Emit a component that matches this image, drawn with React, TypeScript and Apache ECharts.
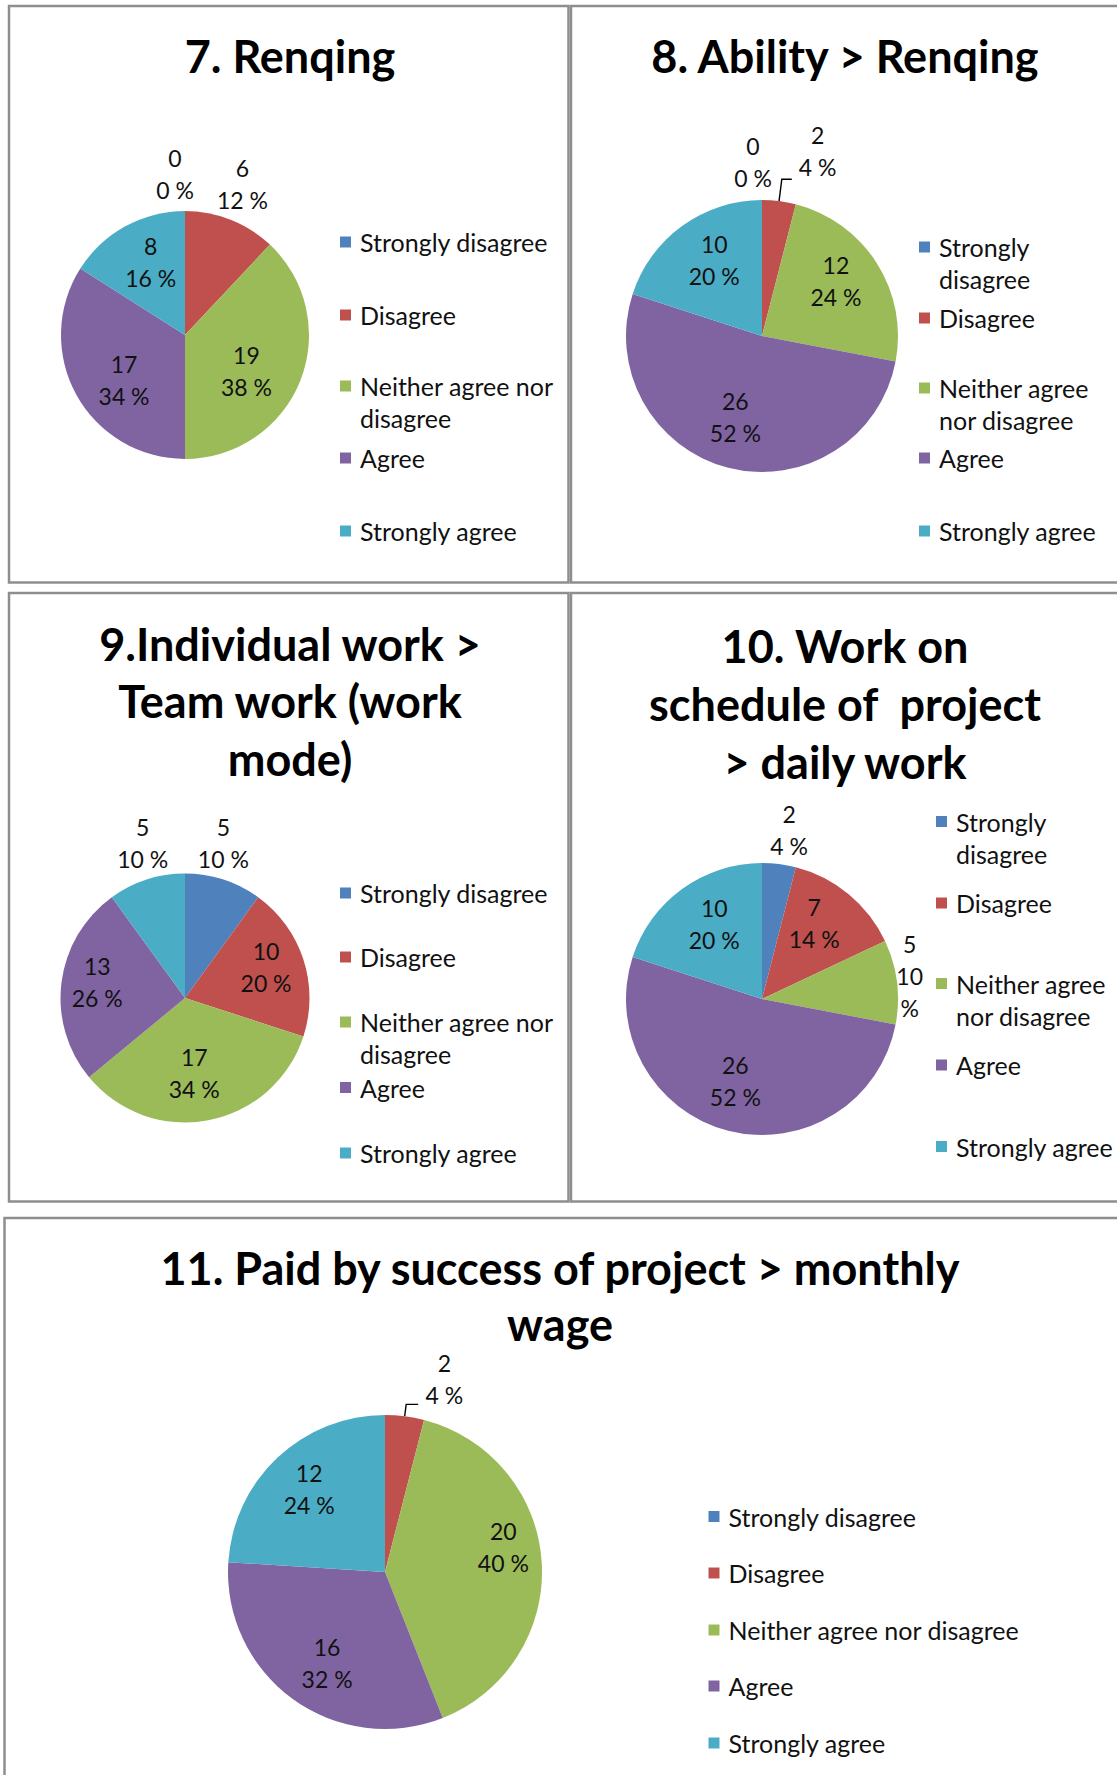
import React, { useEffect, useRef } from 'react';
import * as echarts from 'echarts';

// ---------------- data ----------------
const categories = ['Strongly disagree', 'Disagree', 'Neither agree nor disagree', 'Agree', 'Strongly agree'];
const q7Renqing = [0, 6, 19, 17, 8];
const q8AbilityOverRenqing = [0, 2, 12, 26, 10];
const q9IndividualOverTeam = [5, 10, 17, 13, 5];
const q10ProjectScheduleOverDaily = [2, 7, 5, 26, 10];
const q11PaidBySuccessOverWage = [0, 2, 20, 16, 12];
const chartTitles = [
  '7. Renqing',
  '8. Ability > Renqing',
  '9.Individual work >\nTeam work (work\nmode)',
  '10. Work on\nschedule of  project\n> daily work',
  '11. Paid by success of project > monthly\nwage',
];

// ---------------- style / layout ----------------
const sliceColors = ['#4F81BD', '#C0504D', '#9BBB59', '#8064A2', '#4BACC6'];
const legendWide = ['Strongly disagree', 'Disagree', 'Neither agree nor\ndisagree', 'Agree', 'Strongly agree'];
const legendNarrow = ['Strongly\ndisagree', 'Disagree', 'Neither agree\nnor disagree', 'Agree', 'Strongly agree'];
const FONT = 'Lato';
const LABEL_SIZE = 23;
const LEGEND_SIZE = 25;
const LINE_H = 32;
const TITLE_SIZE = 45;
const MARK = 11;
// square at the top of a taller box, so the marker sits on the first line of a wrapped legend text
const TALL_ICON = `path://M0,0H${MARK}V${MARK}H0Z M0,${MARK + LINE_H - 0.01}H0.01V${MARK + LINE_H}H0Z`;

type Placement = 'in' | 'out' | 'line' | 'none';
interface Layout {
  values: number[];
  title: string;
  titleX: number;
  titleTop: number;
  titleLH: number;
  center: [number, number];
  radius: number;
  legendX: number;
  legendY: number[];
  legendText: string[];
  placement: Placement[];
  nudge: [number, number][];
  lineLen: [number, number];
  narrowLabel: number;
}

const layouts: Layout[] = [
  {
    values: q7Renqing, title: chartTitles[0], titleX: 290, titleTop: 27, titleLH: 57, center: [185, 335], radius: 124,
    legendX: 340, legendY: [242, 315, 386, 458, 531], legendText: legendWide,
    placement: ['out', 'out', 'in', 'in', 'in'],
    nudge: [[-10, -5], [0, -6], [1, 12], [-4, 14], [-3, -16]], lineLen: [20, 10], narrowLabel: -1,
  },
  {
    values: q8AbilityOverRenqing, title: chartTitles[1], titleX: 845, titleTop: 27, titleLH: 57, center: [762, 336], radius: 136,
    legendX: 919, legendY: [247, 318, 388, 458, 531], legendText: legendNarrow,
    placement: ['out', 'line', 'in', 'in', 'in'],
    nudge: [[-9, -6], [1, -28], [14, -17], [-9, 12], [-6, -19]], lineLen: [22, 10], narrowLabel: -1,
  },
  {
    values: q9IndividualOverTeam, title: chartTitles[2], titleX: 290, titleTop: 615, titleLH: 57.5, center: [185, 998], radius: 124.5,
    legendX: 340, legendY: [893, 957, 1022, 1087.5, 1153], legendText: legendWide,
    placement: ['out', 'in', 'in', 'in', 'out'],
    nudge: [[-10, -6], [19, -11], [-3, 11], [-23, -7.5], [6, -6]], lineLen: [20, 10], narrowLabel: -1,
  },
  {
    values: q10ProjectScheduleOverDaily, title: chartTitles[3], titleX: 845, titleTop: 617, titleLH: 58, center: [762, 999], radius: 136,
    legendX: 936, legendY: [821.6, 903, 983.5, 1065, 1146.5], legendText: legendNarrow,
    placement: ['out', 'in', 'out', 'in', 'in'],
    nudge: [[6, -2], [7, -21], [-19, -2], [-9, 13], [-6, -18]], lineLen: [20, 10], narrowLabel: 2,
  },
  {
    values: q11PaidBySuccessOverWage, title: chartTitles[4], titleX: 560, titleTop: 1240, titleLH: 56, center: [385, 1572], radius: 157,
    legendX: 708.5, legendY: [1516.5, 1573, 1630, 1686, 1743], legendText: categories,
    placement: ['none', 'line', 'in', 'in', 'in'],
    nudge: [[0, 0], [1.4, -25], [37, -19.5], [-10, 25], [-20, -23.5]], lineLen: [12, 12], narrowLabel: -1,
  },
];

const panels = [
  { x: 9, y: 6, w: 559.5, h: 576.5 },
  { x: 571, y: 6, w: 560, h: 576.5 },
  { x: 9, y: 593, w: 559.5, h: 608.5 },
  { x: 571, y: 593, w: 560, h: 608.5 },
  { x: 4.5, y: 1218, w: 1130, h: 580 },
];

function buildOption() {
  const series = layouts.map((L) => ({
    type: 'pie',
    center: L.center,
    radius: L.radius,
    startAngle: 90,
    clockwise: true,
    avoidLabelOverlap: false,
    percentPrecision: 0,
    silent: true,
    emphasis: { disabled: true },
    label: {
      fontFamily: FONT,
      fontSize: LABEL_SIZE,
      lineHeight: LINE_H,
      color: '#111',
      formatter: (p: any) => `${p.value}\n${Math.round(p.percent)} %`,
    },
    labelLayout: (params: any) => {
      const i = params.dataIndex;
      const kind = L.placement[i];
      const [nx, ny] = L.nudge[i];
      const r = params.labelRect;
      if (!r) return {};
      let x = r.x + r.width / 2;
      const y = r.y + r.height / 2;
      if (kind === 'out') {
        x = params.align === 'right' ? r.x + r.width : params.align === 'left' ? r.x : x;
      }
      const out: any = { x: x + nx, y: y + ny, align: 'center', verticalAlign: 'middle' };
      if (params.labelLinePoints) out.labelLinePoints = params.labelLinePoints;
      return out;
    },
    data: categories.map((name, i) => {
      const kind = L.placement[i];
      const item: any = { name, value: L.values[i], itemStyle: { color: sliceColors[i] } };
      if (kind === 'in') {
        item.label = { position: 'inside' };
        item.labelLine = { show: false };
      } else if (kind === 'out') {
        item.label = { position: 'outside', distanceToLabelLine: 0 };
        item.labelLine = { show: false, length: 32, length2: 0 };
      } else if (kind === 'line') {
        item.label = { position: 'outside', distanceToLabelLine: 6 };
        item.labelLine = {
          show: true, length: L.lineLen[0], length2: L.lineLen[1], smooth: false,
          lineStyle: { color: '#000', width: 1.4 },
        };
      } else {
        item.label = { show: false };
        item.labelLine = { show: false };
      }
      if (i === L.narrowLabel) {
        item.label.formatter = (p: any) => `${p.value}\n${Math.round(p.percent)}\n%`;
      }
      return item;
    }),
  }));

  const legend: any[] = [];
  layouts.forEach((L) => {
    categories.forEach((name, i) => {
      const text = L.legendText[i];
      const wrapped = text.split('\n').length > 1;
      legend.push({
        orient: 'vertical',
        left: L.legendX,
        top: L.legendY[i] - LINE_H / 2,
        padding: 0,
        itemGap: 0,
        itemWidth: MARK,
        itemHeight: wrapped ? MARK + LINE_H : MARK,
        icon: wrapped ? TALL_ICON : 'rect',
        selectedMode: false,
        formatter: text,
        data: [name],
        textStyle: {
          fontFamily: FONT,
          fontSize: LEGEND_SIZE,
          lineHeight: LINE_H,
          color: '#111',
          padding: [0, 0, 0, 4],
        },
      });
    });
  });

  const title = layouts.map((L) => ({
    text: L.title,
    left: L.titleX,
    top: L.titleTop,
    textAlign: 'center',
    padding: 0,
    textStyle: { fontFamily: FONT, fontWeight: 'bold', fontSize: TITLE_SIZE, lineHeight: L.titleLH, color: '#000' },
  }));

  const graphic = panels.map((p) => ({
    type: 'rect',
    silent: true,
    z: -10,
    shape: { x: p.x, y: p.y, width: p.w, height: p.h },
    style: { fill: 'none', stroke: '#8e8e8e', lineWidth: 2.5 },
  }));

  return {
    animation: false,
    backgroundColor: '#ffffff',
    textStyle: { fontFamily: FONT },
    title,
    legend,
    graphic,
    series,
  };
}

export default function App() {
  const ref = useRef<HTMLDivElement>(null);
  useEffect(() => {
    if (!ref.current) return;
    const chart = echarts.init(ref.current, undefined, { renderer: 'svg' });
    chart.setOption(buildOption() as any);
    return () => chart.dispose();
  }, []);
  return (
    <div
      ref={ref}
      style={{ position: 'absolute', left: 0, top: 0, width: 1117, height: 1775 }}
    />
  );
}
